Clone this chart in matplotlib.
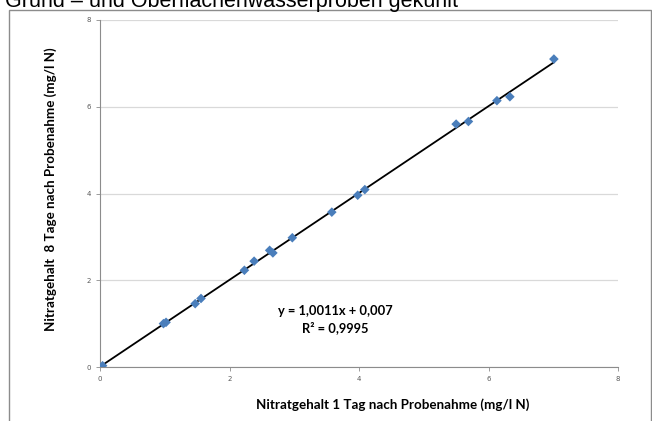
import matplotlib
matplotlib.use("Agg")
import matplotlib.pyplot as plt
import numpy as np
from matplotlib.patches import Rectangle

# data
nitrat_tag1 = [0.04, 0.98, 1.02, 1.47, 1.56, 2.23, 2.38, 2.62, 2.67, 2.97,
               3.58, 3.98, 4.09, 5.50, 5.69, 6.13, 6.33, 7.01]
nitrat_tag8 = [0.03, 1.00, 1.03, 1.46, 1.58, 2.23, 2.44, 2.69, 2.63, 2.98,
               3.57, 3.96, 4.09, 5.60, 5.66, 6.14, 6.23, 7.10]
ticks = [0, 2, 4, 6, 8]
slope = 1.0011
intercept = 0.007
title = "Grund – und Oberflächenwasserproben gekühlt"
xlabel = "Nitratgehalt 1 Tag nach Probenahme (mg/l N)"
ylabel = "Nitratgehalt  8 Tage nach Probenahme (mg/l N)"
eq_text = "y = 1,0011x + 0,007\nR² = 0,9995"

W, H = 652, 421
fig = plt.figure(figsize=(W / 100, H / 100), dpi=100)
fig.patch.set_facecolor("white")

# chart frame (cropped screenshot)
fig.patches.append(Rectangle((9 / W, -0.1), (W - 10) / W, 1.1 - 10 / H,
                             transform=fig.transFigure, fill=False,
                             edgecolor="#8c8c8c", linewidth=1.0))

# title, cut off at the top like in the screenshot
fig.text(5 / W, 1 - 6.5 / H, title, fontsize=15.5, family="Liberation Sans",
         va="baseline", ha="left", color="black")

ax = fig.add_axes([100 / W, 1 - 367 / H, 518 / W, 347 / H])
ax.set_xlim(0, 8)
ax.set_ylim(0, 8)

grey = "#8c8c8c"
for sp in ["top", "right"]:
    ax.spines[sp].set_visible(False)
ax.spines["left"].set_color(grey)
ax.spines["bottom"].set_color(grey)
ax.spines["left"].set_linewidth(0.8)
ax.spines["bottom"].set_linewidth(0.8)

ax.set_xticks(ticks)
ax.set_yticks(ticks)
ax.tick_params(axis="both", colors=grey, labelsize=5, length=3, width=0.6,
               labelcolor="#595959")
ax.yaxis.grid(True, color="#d9d9d9", linewidth=0.9)
ax.set_axisbelow(True)

# trend line over the data range
xs = np.array([min(nitrat_tag1), max(nitrat_tag1)])
ax.plot(xs, slope * xs + intercept, color="black", linewidth=1.3, zorder=2)

ax.scatter(nitrat_tag1, nitrat_tag8, marker="D", s=24, color="#4a7ebb",
           edgecolors="none", zorder=3)

ax.text(3.63, 1.1, eq_text, ha="center", va="center", fontsize=9.3,
        family="Lato", fontweight="bold", linespacing=1.35)

fig.text(393 / W, 1 - 405 / H, xlabel, ha="center", va="center",
         fontsize=9.6, family="Lato", fontweight="bold")
fig.text(51 / W, 1 - 189.5 / H, ylabel, ha="center", va="center",
         rotation=90, fontsize=9.6, family="Lato", fontweight="bold")

fig.savefig("out.png", dpi=100)
